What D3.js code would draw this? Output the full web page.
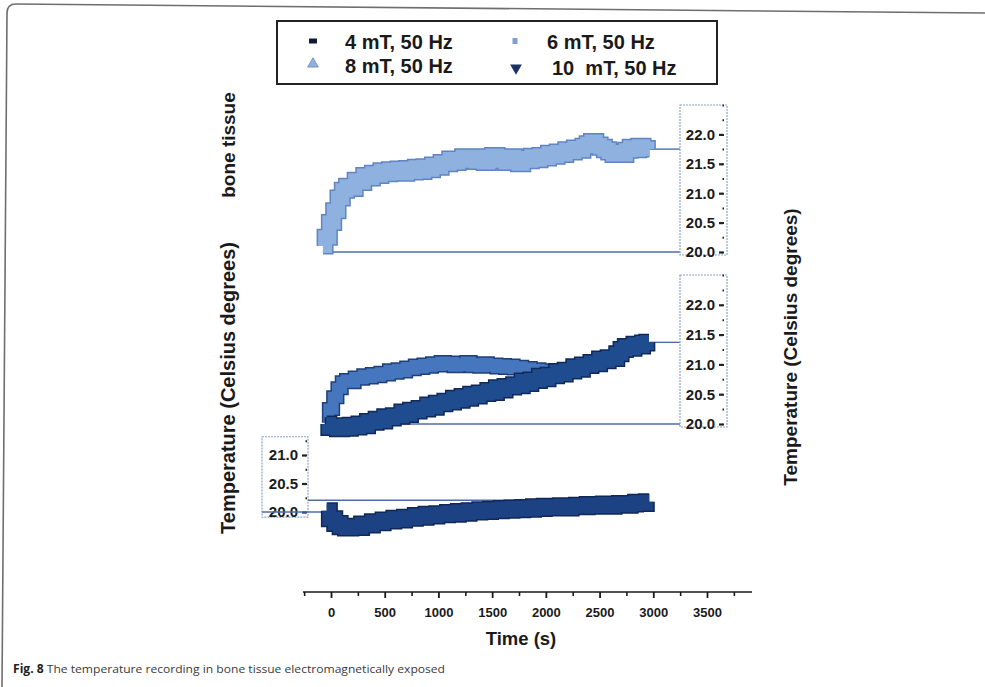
<!DOCTYPE html>
<html>
<head>
<meta charset="utf-8">
<script src="https://cdn.jsdelivr.net/npm/d3@7/dist/d3.min.js"></script>
<style>
  html, body { margin: 0; padding: 0; background: #ffffff; }
  svg { display: block; }
</style>
</head>
<body>
<svg id="chart" width="985" height="687"></svg>
<script>
// ---- Temperature recordings (°C) against exposure time (s) ----
const legendLabels = ["4 mT, 50 Hz", "6 mT, 50 Hz", "8 mT, 50 Hz", "10  mT, 50 Hz"];

// 8 mT, 50 Hz (upper panel)
const time8 = [-75,-35,5,45,85,125,165,205,245,285,325,365,405,445,485,525,565,605,645,685,725,765,805,845,885,925,965,1005,1045,1085,1125,1165,1205,1245,1285,1325,1365,1405,1445,1485,1525,1565,1605,1645,1685,1725,1765,1805,1845,1885,1925,1965,2005,2045,2085,2125,2165,2205,2245,2285,2325,2365,2405,2445,2485,2525,2565,2605,2645,2685,2725,2765,2805,2845,2885,2925,2965];
const temp8 = [20.10,20.25,20.50,20.70,20.92,21.05,21.12,21.08,21.22,21.18,21.30,21.26,21.34,21.30,21.38,21.33,21.40,21.35,21.41,21.34,21.42,21.36,21.44,21.37,21.45,21.40,21.48,21.44,21.52,21.50,21.58,21.52,21.56,21.62,21.55,21.60,21.54,21.62,21.52,21.58,21.64,21.55,21.60,21.52,21.62,21.55,21.50,21.60,21.55,21.63,21.57,21.64,21.60,21.68,21.63,21.70,21.66,21.74,21.70,21.77,21.73,21.80,21.84,21.88,21.82,21.78,21.74,21.70,21.66,21.70,21.66,21.73,21.78,21.74,21.80,21.76,21.75];

// 6 mT, 50 Hz (middle panel, upper branch)
const time6 = [-40,0,40,80,120,160,200,240,280,320,360,400,440,480,520,560,600,640,680,720,760,800,840,880,920,960,1000,1040,1080,1120,1160,1200,1240,1280,1320,1360,1400,1440,1480,1520,1560,1600,1640,1680,1720,1760,1800,1840,1880,1920,1960,2000,2040,2080];
const temp6 = [20.02,20.25,20.45,20.60,20.70,20.74,20.70,20.78,20.76,20.82,20.78,20.84,20.80,20.86,20.83,20.90,20.86,20.92,20.88,20.95,20.92,20.98,20.94,21.00,20.96,21.02,20.98,21.04,20.99,21.03,20.97,21.02,20.98,21.04,20.97,21.01,20.96,21.02,20.97,21.00,20.95,20.99,20.94,20.98,20.93,20.96,20.91,20.94,20.90,20.92,20.88,20.90,20.87,20.89];

// 10 mT, 50 Hz (middle panel, lower branch)
const time10 = [-40,0,40,80,120,160,200,240,280,320,360,400,440,480,520,560,600,640,680,720,760,800,840,880,920,960,1000,1040,1080,1120,1160,1200,1240,1280,1320,1360,1400,1440,1480,1520,1560,1600,1640,1680,1720,1760,1800,1840,1880,1920,1960,2000,2040,2080,2120,2160,2200,2240,2280,2320,2360,2400,2440,2480,2520,2560,2600,2640,2680,2720,2760,2800,2840,2880,2920,2960];
const temp10 = [20.00,19.94,19.97,19.92,19.96,19.93,19.98,19.95,20.00,19.97,20.04,20.03,20.08,20.05,20.12,20.10,20.14,20.13,20.20,20.16,20.23,20.22,20.26,20.25,20.32,20.28,20.35,20.34,20.38,20.37,20.43,20.40,20.46,20.43,20.50,20.47,20.52,20.51,20.56,20.53,20.61,20.57,20.63,20.62,20.66,20.64,20.72,20.68,20.74,20.73,20.80,20.76,20.82,20.81,20.88,20.84,20.90,20.89,20.96,20.92,20.99,20.98,21.03,21.01,21.09,21.06,21.11,21.10,21.18,21.25,21.30,21.27,21.34,21.31,21.36,21.37];

// 4 mT, 50 Hz (lower panel)
const time4 = [-40,10,60,110,160,210,260,310,360,410,460,510,560,610,660,710,760,810,860,910,960,1010,1060,1110,1160,1210,1260,1310,1360,1410,1460,1510,1560,1610,1660,1710,1760,1810,1860,1910,1960,2010,2060,2110,2160,2210,2260,2310,2360,2410,2460,2510,2560,2610,2660,2710,2760,2810,2860,2910,2960];
const temp4 = [20.02,19.88,19.80,19.74,19.72,19.75,19.73,19.79,19.77,19.83,19.81,19.86,19.84,19.89,19.86,19.91,19.89,19.94,19.91,19.96,19.93,19.97,19.95,19.99,19.96,20.01,19.98,20.02,20.00,20.04,20.01,20.05,20.02,20.06,20.03,20.07,20.04,20.08,20.05,20.09,20.06,20.10,20.07,20.08,20.11,20.07,20.10,20.12,20.09,20.13,20.10,20.12,20.14,20.10,20.13,20.15,20.12,20.14,20.17,20.15,20.18];

// Axis ticks
const timeTicks = [0, 500, 1000, 1500, 2000, 2500, 3000, 3500];
const timeMinorTicks = [-250, 250, 750, 1250, 1750, 2250, 2750, 3250, 3750];
const tempTicksWide = [20.0, 20.5, 21.0, 21.5, 22.0];
const tempTicksNarrow = [20.0, 20.5, 21.0];

const zip = (t, v) => t.map((d, i) => ({ t: d, v: v[i] }));
const FONT = "'Liberation Sans', Arial, sans-serif";

const svg = d3.select("#chart");

// Outer page frame
svg.append("path")
  .attr("d", "M2,687 L7,13 Q7,4 16,4 L985,13")
  .attr("fill", "none").attr("stroke", "#6e6e6e").attr("stroke-width", 1.6);

// Shared time scale
const x = d3.scaleLinear().domain([0, 3500]).range([331, 707]);

// Panel temperature scales
const yTop = d3.scaleLinear().domain([20, 22.5]).range([252, 105]);
const yMid = d3.scaleLinear().domain([20, 22.5]).range([424, 275]);
const yBot = d3.scaleLinear().domain([20, 21]).range([512, 455]);

const guideColor = "#4d6ea6";
const frameColor = "#8ea4cc";

// Dense recordings drawn as a thick stepped trace with a darker rim
function band(data, y, fill, edge, width) {
  const line = d3.line().x(d => x(d.t)).y(d => y(d.v)).curve(d3.curveStep);
  const g = svg.append("g");
  g.append("path").datum(data).attr("d", line)
    .attr("fill", "none").attr("stroke", edge).attr("stroke-width", width + 3)
    .attr("stroke-linejoin", "miter").attr("stroke-linecap", "butt");
  g.append("path").datum(data).attr("d", line)
    .attr("fill", "none").attr("stroke", fill).attr("stroke-width", width)
    .attr("stroke-linejoin", "miter").attr("stroke-linecap", "butt");
}

function hline(y, x1, x2) {
  svg.append("line").attr("x1", x1).attr("x2", x2).attr("y1", y).attr("y2", y)
    .attr("stroke", guideColor).attr("stroke-width", 1.4);
}

// Boxed temperature axis: labels inside a frame, ticks to the right of labels
function tempAxis(y, ticks, box, tickX) {
  svg.append("rect")
    .attr("x", box.x0).attr("y", box.y0)
    .attr("width", box.x1 - box.x0).attr("height", box.y1 - box.y0)
    .attr("fill", "#ffffff").attr("stroke", frameColor).attr("stroke-width", 1.2)
    .attr("stroke-dasharray", "2,1");
  const minor = [];
  for (let v = y.domain()[0]; v <= y.invert(box.y0) + 1e-9; v += 0.25) minor.push(+v.toFixed(2));
  const gMinor = svg.append("g").attr("transform", `translate(${tickX},0)`)
    .call(d3.axisLeft(y).tickValues(minor).tickSize(1.5).tickFormat(""));
  gMinor.select(".domain").remove();
  gMinor.selectAll(".tick line").attr("stroke", "#222").attr("stroke-width", 2)
    .attr("transform", "translate(1,0)");
  const g = svg.append("g").attr("transform", `translate(${tickX},0)`)
    .call(d3.axisLeft(y).tickValues(ticks).tickSize(4).tickPadding(4).tickFormat(d3.format(".1f")));
  g.select(".domain").remove();
  g.selectAll(".tick line").attr("stroke", "#222").attr("stroke-width", 2.2);
  g.selectAll(".tick text")
    .attr("fill", "#1a1a1a").attr("font-size", 15).attr("font-weight", "bold")
    .style("font-family", FONT);
}

// ---- Upper panel ----
const d8 = zip(time8, temp8);
hline(yTop(20), x(time8[0]), 680);
hline(yTop(temp8[temp8.length - 1]), x(time8[time8.length - 1]), 680);
band(d8, yTop, "#8fb1e0", "#5f84c2", 14);
tempAxis(yTop, tempTicksWide, { x0: 680, x1: 727, y0: yTop(22.5), y1: yTop(20) + 3 }, 723);

// ---- Middle panel ----
const d6 = zip(time6, temp6);
const d10 = zip(time10, temp10);
hline(yMid(20), x(time10[0]), 680);
hline(yMid(temp10[temp10.length - 1]), x(time10[time10.length - 1]), 680);
band(d6, yMid, "#4676bd", "#1f3f78", 11);
band(d10, yMid, "#1f4c8e", "#10295a", 14);
tempAxis(yMid, tempTicksWide, { x0: 680, x1: 727, y0: yMid(22.5), y1: yMid(20) + 3 }, 723);

// ---- Lower panel ----
const d4 = zip(time4, temp4);
tempAxis(yBot, tempTicksNarrow, { x0: 262, x1: 308, y0: yBot(21.32), y1: yBot(19.91) }, 306);
hline(yBot(20), 262, x(time4[0]));
hline(yBot(temp4[temp4.length - 1]) - 1.5, 308, x(time4[time4.length - 1]));
band(d4, yBot, "#1c4283", "#0f2858", 14);

// ---- Time axis ----
const axisY = 592;
svg.append("line").attr("x1", 303).attr("x2", 752).attr("y1", axisY).attr("y2", axisY)
  .attr("stroke", "#1a1a1a").attr("stroke-width", 1.6);
const gMinorX = svg.append("g").attr("transform", `translate(0,${axisY})`)
  .call(d3.axisBottom(x).tickValues(timeMinorTicks).tickSize(4).tickFormat(""));
gMinorX.select(".domain").remove();
gMinorX.selectAll(".tick line").attr("stroke", "#1a1a1a").attr("stroke-width", 1.6);
const gx = svg.append("g").attr("transform", `translate(0,${axisY})`)
  .call(d3.axisBottom(x).tickValues(timeTicks).tickSize(6).tickPadding(10).tickFormat(d3.format("d")));
gx.select(".domain").remove();
gx.selectAll(".tick line").attr("stroke", "#1a1a1a").attr("stroke-width", 1.8);
gx.selectAll(".tick text")
  .attr("fill", "#1a1a1a").attr("font-size", 13).attr("font-weight", "bold")
  .style("font-family", FONT);

function title(sel) {
  return sel.style("font-family", FONT).attr("font-weight", "bold").attr("fill", "#1a1a1a");
}

title(svg.append("text")).attr("x", 521).attr("y", 645).attr("text-anchor", "middle")
  .attr("font-size", 18.5).text("Time (s)");

// ---- Axis titles ----
title(svg.append("text"))
  .attr("transform", "translate(235,145) rotate(-90)")
  .attr("text-anchor", "middle").attr("font-size", 19)
  .text("bone tissue");
title(svg.append("text"))
  .attr("transform", "translate(235,388) rotate(-90)")
  .attr("text-anchor", "middle").attr("font-size", 20)
  .text("Temperature (Celsius degrees)");
title(svg.append("text"))
  .attr("transform", "translate(797,347) rotate(-90)")
  .attr("text-anchor", "middle").attr("font-size", 19)
  .text("Temperature (Celsius degrees)");

// ---- Legend ----
const legend = svg.append("g");
legend.append("rect").attr("x", 277).attr("y", 21).attr("width", 440).attr("height", 63)
  .attr("fill", "#ffffff").attr("stroke", "#222").attr("stroke-width", 2);

const legendItems = [
  { label: legendLabels[0], mx: 313, my: 41, tx: 345, ty: 49, symbol: "rect", color: "#111a33" },
  { label: legendLabels[1], mx: 515, my: 41, tx: 547, ty: 49, symbol: "square", color: "#7f9fd2" },
  { label: legendLabels[2], mx: 313, my: 64, tx: 345, ty: 73, symbol: "up", color: "#8fb1e0" },
  { label: legendLabels[3], mx: 516, my: 68, tx: 552, ty: 75, symbol: "down", color: "#1a3266" }
];
legendItems.forEach(it => {
  if (it.symbol === "rect") {
    legend.append("rect").attr("x", it.mx - 4).attr("y", it.my - 2.5).attr("width", 8).attr("height", 5).attr("fill", it.color);
  } else if (it.symbol === "square") {
    legend.append("rect").attr("x", it.mx - 2.5).attr("y", it.my - 3).attr("width", 5).attr("height", 6).attr("fill", it.color);
  } else if (it.symbol === "down") {
    legend.append("path").attr("d", d3.symbol(d3.symbolTriangle, 60)())
      .attr("transform", `translate(${it.mx},${it.my}) rotate(180)`).attr("fill", it.color);
  } else {
    legend.append("path").attr("d", d3.symbol(d3.symbolTriangle, 50)())
      .attr("transform", `translate(${it.mx},${it.my})`).attr("fill", it.color).attr("stroke", "#6a88bf").attr("stroke-width", 0.8);
  }
  title(legend.append("text")).attr("x", it.tx).attr("y", it.ty)
    .attr("font-size", 20).attr("xml:space", "preserve").style("white-space", "pre")
    .text(it.label);
});

// ---- Caption ----
const cap = svg.append("text").attr("x", 13).attr("y", 673)
  .style("font-family", "'Open Sans', 'Noto Sans', sans-serif").attr("font-size", 11.5).attr("fill", "#3a3a3a")
  .attr("textLength", 432).attr("lengthAdjust", "spacingAndGlyphs");
cap.append("tspan").attr("font-weight", "bold").attr("fill", "#222").text("Fig. 8");
cap.append("tspan").text(" The temperature recording in bone tissue electromagnetically exposed");
</script>
</body>
</html>
